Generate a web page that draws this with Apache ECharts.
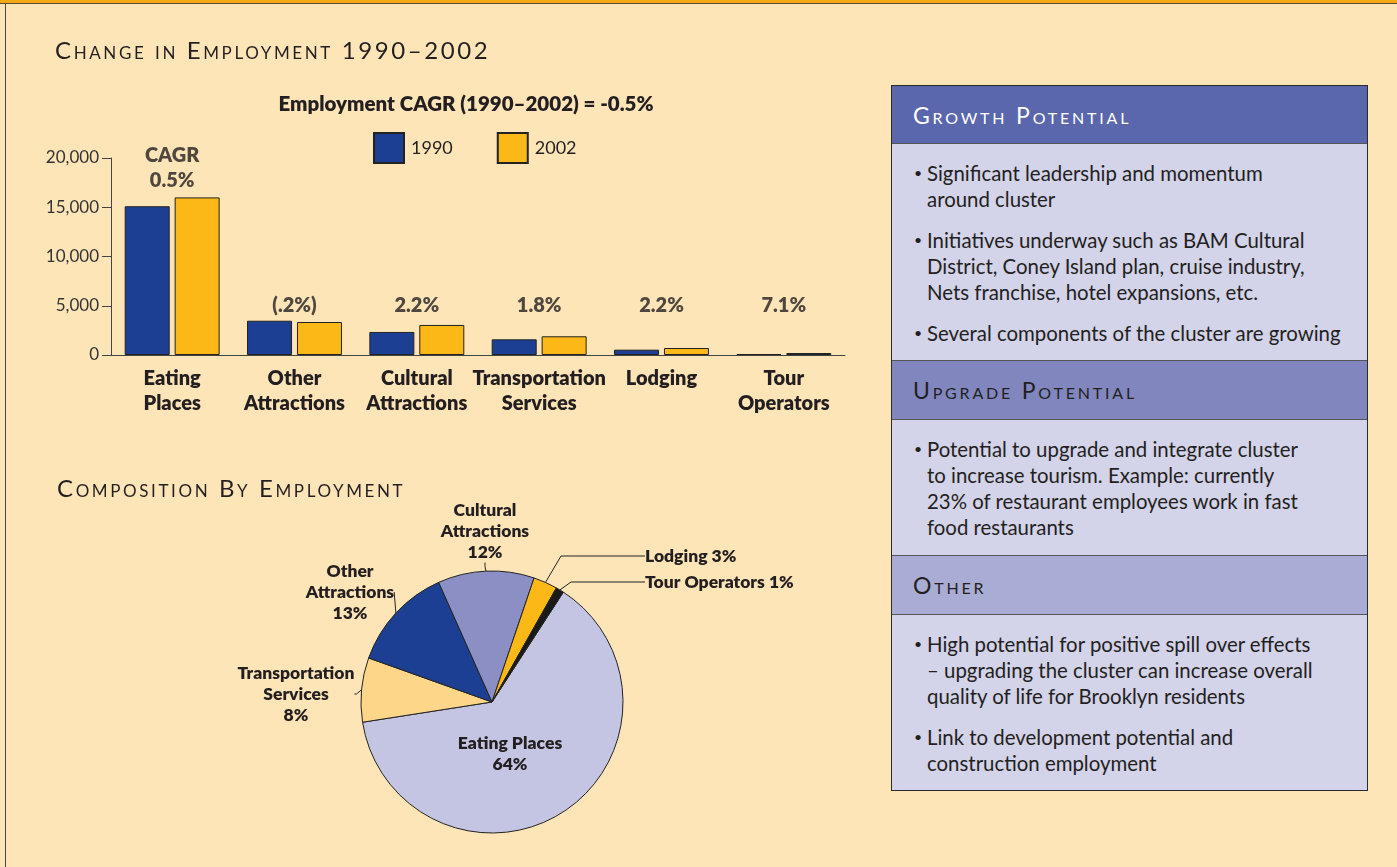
<!DOCTYPE html>
<html>
<head>
<meta charset="utf-8">
<script src="https://cdn.jsdelivr.net/npm/echarts@6/dist/echarts.min.js"></script>
<style>
  html, body { margin: 0; padding: 0; }
  body { width: 1397px; height: 867px; background: #fee5b8; position: relative; overflow: hidden;
         font-family: Lato, 'Noto Sans', sans-serif; color: #231f20; }
  #topbar { position: absolute; left: 0; top: 0; width: 1397px; height: 3px; background: #f5a815; border-bottom: 1px solid #5c4a2a; }
  #leftline { position: absolute; left: 5px; top: 4px; width: 1px; height: 863px; background: #4a4a4a; }
  #chart { position: absolute; left: 0; top: 0; width: 1397px; height: 867px; }
  .sect { position: absolute; font-variant: small-caps; letter-spacing: 2.6px; font-size: 24px; line-height: 26px; white-space: nowrap; }
  .panel { position: absolute; left: 891px; top: 85px; width: 475px; height: 704px; border: 1px solid #2a2a2a; background: #d3d3e9; }
  .row { position: absolute; left: 0; width: 475px; box-sizing: border-box; }
  .head { font-variant: small-caps; letter-spacing: 2.8px; font-size: 23px; padding-left: 21px; border-bottom: 1px solid #555; }
  .body { padding: 16px 6px 0 35px; font-size: 20.4px; line-height: 26px; border-bottom: 1px solid #555; white-space: nowrap; }
  .body p { margin: 0 0 15px 0; position: relative; }
  .body p:before { content: '\2022'; position: absolute; left: -13px; font-size: 14px; }
</style>
</head>
<body>
<div id="chart"></div>
<div id="topbar"></div>
<div id="leftline"></div>
<div class="sect" style="left:55px; top:37px;">Change in Employment 1990–2002</div>
<div class="sect" style="left:57px; top:475px;">Composition By Employment</div>
<div class="panel">
  <div class="row head" style="top:0; height:58px; line-height:58px; background:#5a67ad; color:#fff;">Growth Potential</div>
  <div class="row body" style="top:58px; height:217px;">
    <p>Significant leadership and momentum<br>around cluster</p>
    <p>Initiatives underway such as BAM Cultural<br>District, Coney Island plan, cruise industry,<br>Nets franchise, hotel expansions, etc.</p>
    <p>Several components of the cluster are growing</p>
  </div>
  <div class="row head" style="top:275px; height:59px; line-height:59px; background:#8187be;">Upgrade Potential</div>
  <div class="row body" style="top:334px; height:136px;">
    <p>Potential to upgrade and integrate cluster<br>to increase tourism. Example: currently<br>23% of restaurant employees work in fast<br>food restaurants</p>
  </div>
  <div class="row head" style="top:470px; height:59px; line-height:59px; background:#a9acd4;">Other</div>
  <div class="row body" style="top:529px; height:175px; border-bottom:none;">
    <p>High potential for positive spill over effects<br>– upgrading the cluster can increase overall<br>quality of life for Brooklyn residents</p>
    <p>Link to development potential and<br>construction employment</p>
  </div>
</div>
<script>
// employment by cluster component
const categories = ['Eating Places', 'Other Attractions', 'Cultural Attractions', 'Transportation Services', 'Lodging', 'Tour Operators']
const emp1990 = [15100, 3480, 2340, 1590, 540, 100]
const emp2002 = [16000, 3350, 3050, 1900, 710, 200]
const cagrText = ['CAGR\n0.5%', '(.2%)', '2.2%', '1.8%', '2.2%', '7.1%']
const yTicks = [0, 5000, 10000, 15000, 20000]

// composition by employment (pie)
const pieNames = ['Eating Places', 'Transportation Services', 'Other Attractions', 'Cultural Attractions', 'Lodging', 'Tour Operators']
const pieShare = [64, 8, 13, 12, 3, 1]
const pieColors = ['#c3c5e2', '#fdd68a', '#1c3f94', '#8b8fc4', '#fbb817', '#1a1a1a']

const font = 'Lato, "Noto Sans", sans-serif'
const ink = '#231f20'
const heavy = 800

let pieLabels = {
  'Eating Places': 'Eating Places\n{c}%',
  'Transportation Services': 'Transportation\nServices\n{c}%',
  'Other Attractions': 'Other\nAttractions\n{c}%',
  'Cultural Attractions': 'Cultural\nAttractions\n{c}%',
  'Lodging': 'Lodging {c}%',
  'Tour Operators': 'Tour Operators {c}%'
}
let pieLabelPos = [
  {x: 510, y: 754, align: 'center'},
  {x: 296, y: 694, align: 'center'},
  {x: 350, y: 592, align: 'center'},
  {x: 485, y: 531, align: 'center'},
  {x: 645, y: 556, align: 'left'},
  {x: 645, y: 582, align: 'left'}
]
let pieLineLen = [0, 2, 0, 4, 84, 74]

let chart = echarts.init(document.getElementById('chart'))
let option = {
  backgroundColor: 'transparent',
  textStyle: {fontFamily: font},
  animation: false,
  graphic: [{
    type: 'text',
    x: 466,
    y: 104,
    style: {
      text: 'Employment CAGR (1990–2002) = -0.5%',
      font: heavy + ' 20.5px ' + font,
      fill: ink,
      align: 'center',
      verticalAlign: 'middle'
    }
  }],
  legend: {
    data: ['1990', '2002'],
    left: 368,
    top: 127,
    icon: 'rect',
    itemWidth: 30,
    itemHeight: 30,
    itemGap: 44,
    textStyle: {fontSize: 18, color: ink, padding: [0, 0, 0, 2]}
  },
  grid: {left: 111, top: 158, width: 734, height: 197},
  xAxis: {
    type: 'category',
    data: categories,
    axisLine: {lineStyle: {color: '#444', width: 1}},
    axisTick: {length: 7, lineStyle: {color: '#444'}},
    axisLabel: {
      interval: 0,
      margin: 11,
      fontSize: 20,
      fontWeight: heavy,
      color: ink,
      lineHeight: 25,
      verticalAlign: 'top',
      formatter: v => v.replace(' ', '\n')
    }
  },
  yAxis: {
    type: 'value',
    min: yTicks[0],
    max: yTicks[yTicks.length - 1],
    interval: 5000,
    axisLine: {show: true, lineStyle: {color: '#444'}},
    axisTick: {show: true, length: 9, lineStyle: {color: '#444'}},
    splitLine: {show: false},
    axisLabel: {fontSize: 17, color: '#333', margin: 12}
  },
  series: [
    {
      name: '1990',
      type: 'bar',
      data: emp1990,
      barWidth: 45,
      barGap: '11%',
      itemStyle: {color: '#1c3f94', borderColor: '#222', borderWidth: 1}
    },
    {
      name: '2002',
      type: 'bar',
      data: emp2002,
      barWidth: 45,
      itemStyle: {color: '#fbb817', borderColor: '#222', borderWidth: 1}
    },
    {
      name: 'CAGR',
      type: 'scatter',
      symbolSize: 0,
      silent: true,
      data: categories.map((c, i) => [c, i === 0 ? 19000 : 5000]),
      label: {
        show: true,
        position: 'inside',
        fontSize: 20,
        fontWeight: heavy,
        lineHeight: 25,
        color: ink,
        formatter: p => cagrText[p.dataIndex]
      }
    },
    {
      name: 'Composition',
      type: 'pie',
      center: [492, 702],
      radius: 131,
      startAngle: 57,
      clockwise: true,
      avoidLabelOverlap: false,
      itemStyle: {borderColor: '#222', borderWidth: 1},
      label: {
        show: true,
        fontSize: 17.5,
        fontWeight: heavy,
        color: ink,
        lineHeight: 21
      },
      labelLine: {show: true, lineStyle: {color: '#222', width: 1}},
      labelLayout: p => {
        let pos = pieLabelPos[p.dataIndex]
        return {x: pos.x, y: pos.y, align: pos.align, verticalAlign: 'middle'}
      },
      data: pieNames.map((n, i) => ({
        name: n,
        value: pieShare[i],
        itemStyle: {color: pieColors[i]},
        label: {formatter: pieLabels[n]},
        labelLine: {show: i !== 0, length: 10, length2: pieLineLen[i]}
      }))
    }
  ]
}
chart.setOption(option)
window.addEventListener('resize', () => {
  chart.resize()
})
</script>
</body>
</html>
